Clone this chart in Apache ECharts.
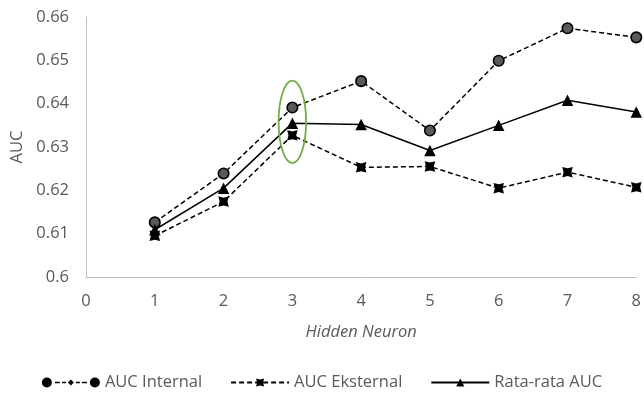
<!DOCTYPE html>
<html>
<head>
<meta charset="utf-8">
<script src="https://cdn.jsdelivr.net/npm/echarts@6/dist/echarts.min.js"></script>
<style>
  html, body { margin: 0; padding: 0; background: #fff; }
  #chart { width: 644px; height: 396px; }
</style>
</head>
<body>
<div id="chart"></div>
<script>
// Hidden neuron counts on the x axis
const hiddenNeurons = [1, 2, 3, 4, 5, 6, 7, 8];
// AUC values per configuration
const aucInternal  = [0.6126, 0.6239, 0.6391, 0.6452, 0.6338, 0.6499, 0.6574, 0.6553];
const aucEksternal = [0.6095, 0.6174, 0.6327, 0.6253, 0.6255, 0.6205, 0.6242, 0.6207];
const aucRataRata  = [0.6109, 0.6205, 0.6355, 0.6352, 0.6292, 0.6350, 0.6408, 0.6381];

const yMin = 0.6, yMax = 0.66, yStep = 0.01;
const xMin = 0, xMax = 8, xStep = 1;

// Highlighted configuration (ellipse around hidden neuron = 3), in data units
const highlight = { x: 3, y: 0.6358, rx: 0.2, ry: 0.0095 };

const FONT = '"Open Sans", "Noto Sans", sans-serif';
const FS = 16.5;
const TXT = '#595959';

const pairs = arr => hiddenNeurons.map((n, i) => [n, arr[i]]);

// Notched square used as the marker of the external AUC series
const notchedSquare = 'path://M0,0 L5,1.3 L10,0 L8.7,5 L10,10 L5,8.7 L0,10 L1.3,5 Z';

// Legend icon of the internal series: circle, dashes, small diamond, dashes, circle
const internalLegendIcon = 'path://' +
  'M0,5 A5,5 0 1,0 10,5 A5,5 0 1,0 0,5 Z ' +
  'M13,4.2 L18,4.2 L18,5.8 L13,5.8 Z ' +
  'M20,4.2 L24,4.2 L24,5.8 L20,5.8 Z ' +
  'M26,5 L29,2 L32,5 L29,8 Z ' +
  'M34,4.2 L38,4.2 L38,5.8 L34,5.8 Z ' +
  'M40,4.2 L45,4.2 L45,5.8 L40,5.8 Z ' +
  'M48,5 A5,5 0 1,0 58,5 A5,5 0 1,0 48,5 Z';

const chart = echarts.init(document.getElementById('chart'));
chart.setOption({
  animation: false,
  backgroundColor: '#fff',
  grid: { left: 86, right: 6, top: 17, bottom: 119, containLabel: false },
  xAxis: {
    type: 'value', min: xMin, max: xMax, interval: xStep,
    name: 'Hidden Neuron', nameLocation: 'middle', nameGap: 47,
    nameTextStyle: { fontFamily: FONT, fontSize: FS, fontStyle: 'italic', color: TXT },
    axisLine: { show: true, lineStyle: { color: '#bfbfbf', width: 1 } },
    axisTick: { show: false },
    splitLine: { show: false },
    axisLabel: { fontFamily: FONT, fontSize: FS, color: TXT, margin: 16 }
  },
  yAxis: {
    type: 'value', min: yMin, max: yMax, interval: yStep,
    name: 'AUC', nameLocation: 'middle', nameGap: 49, nameRotate: 90,
    nameTextStyle: { fontFamily: FONT, fontSize: FS, color: TXT },
    axisLine: { show: true, lineStyle: { color: '#bfbfbf', width: 1 } },
    axisTick: { show: false },
    splitLine: { show: false },
    axisLabel: {
      fontFamily: FONT, fontSize: FS, color: TXT, margin: 17,
      formatter: v => String(+v.toFixed(2))
    }
  },
  legend: {
    bottom: 0, left: 'center',
    itemWidth: 58, itemHeight: 10, itemGap: 28,
    textStyle: { fontFamily: FONT, fontSize: FS, color: TXT },
    data: [
      { name: 'AUC Internal', icon: internalLegendIcon, itemStyle: { color: '#000', borderWidth: 0 } },
      { name: 'AUC Eksternal', lineStyle: { width: 2 } },
      { name: 'Rata-rata AUC', lineStyle: { width: 2 } }
    ]
  },
  series: [
    {
      name: 'AUC Internal', type: 'line', data: pairs(aucInternal),
      symbol: 'circle', symbolSize: 10.5,
      itemStyle: { color: '#595959', borderColor: '#000', borderWidth: 1.6 },
      lineStyle: { color: '#000', width: 1.5, type: [5, 3] }
    },
    {
      name: 'AUC Eksternal', type: 'line', data: pairs(aucEksternal),
      symbol: notchedSquare, symbolSize: 10.5,
      itemStyle: { color: '#000' },
      lineStyle: { color: '#000', width: 1.5, type: [5, 3] }
    },
    {
      name: 'Rata-rata AUC', type: 'line', data: pairs(aucRataRata),
      symbol: 'triangle', symbolSize: 11.5,
      itemStyle: { color: '#000' },
      lineStyle: { color: '#000', width: 1.5 }
    }
  ]
});

// Green ellipse marking the chosen configuration, placed through the axes
const c  = chart.convertToPixel({ gridIndex: 0 }, [highlight.x, highlight.y]);
const tr = chart.convertToPixel({ gridIndex: 0 }, [highlight.x + highlight.rx, highlight.y + highlight.ry]);
chart.setOption({
  graphic: [{
    type: 'ellipse', z: 100,
    shape: { cx: c[0], cy: c[1], rx: Math.abs(tr[0] - c[0]), ry: Math.abs(c[1] - tr[1]) },
    style: { fill: 'none', stroke: '#70ad47', lineWidth: 1.8 }
  }]
});
</script>
</body>
</html>
